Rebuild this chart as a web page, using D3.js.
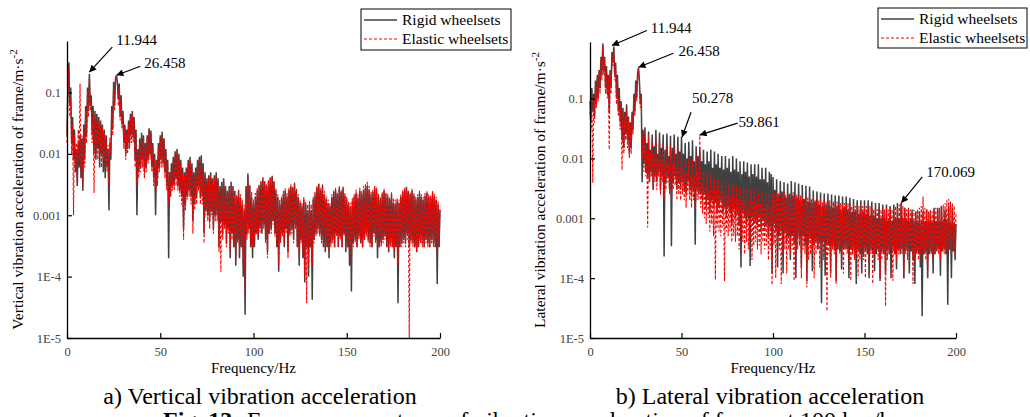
<!DOCTYPE html>
<html>
<head>
<meta charset="utf-8">
<script src="https://cdn.jsdelivr.net/npm/d3@7"></script>
<style>
  body { margin: 0; background: #fff; }
  text { font-family: "Liberation Serif", "Times New Roman", serif; }
</style>
</head>
<body>
<svg id="chart" width="1030" height="417"></svg>
<script>
// spectra are sampled every 0.5 Hz from 0 to 200 Hz
const STEP = 0.5;

// amplitudes in mm/s^2 (1 = 0.001 m/s^2), one row = 10 Hz
const vertRigid = [
  20, 150, 310, 60, 120, 15, 40, 8, 25, 5, 12, 3, 15, 6, 20, 4, 18, 2.5, 30, 8,
  60, 20, 120, 50, 200, 60, 90, 20, 60, 10, 50, 8, 45, 12, 40, 6, 35, 10, 30, 5,
  25, 4, 20, 6, 12, 1.2, 15, 8, 60, 25, 150, 60, 170, 190, 150, 80, 140, 40, 90, 30,
  50, 15, 30, 10, 25, 12, 35, 15, 45, 20, 50, 18, 40, 8, 25, 1.0, 12, 5, 18, 6,
  22, 8, 20, 5, 15, 6, 20, 8, 26, 10, 24, 6, 15, 4, 10, 1.0, 8, 4, 15, 6,
  20, 8, 23, 7, 18, 5, 12, 3, 8, 0.2, 5, 2, 7, 3, 9, 3, 11, 4, 12, 3,
  10, 2.5, 8, 2, 6, 0.6, 5, 1.5, 6, 2, 8, 2.5, 9, 2, 7, 0.8, 5, 1.5, 6, 2,
  8, 3, 9, 2, 9.5, 2, 7, 0.5, 5, 1.2, 4, 1, 4.5, 0.8, 5, 1.2, 4, 0.6, 4.5, 1,
  5, 1, 4, 0.3, 3, 0.8, 3.5, 0.5, 4, 0.7, 3, 0.35, 2.5, 0.6, 3, 0.2, 3.5, 0.5, 3, 0.3,
  2.5, 0.15, 2, 0.4, 2.5, 0.2, 2, 0.3, 1.5, 0.1, 1.2, 0.024, 3, 0.5, 4.8, 0.6, 3, 0.3, 2, 0.2,
  1.5, 0.3, 2, 0.5, 2.5, 0.4, 3, 0.6, 3.5, 0.5, 4, 0.7, 3.5, 0.4, 3, 0.25, 3.5, 0.5, 4, 0.6,
  4.4, 0.8, 3.5, 0.5, 2.5, 0.3, 2, 0.12, 1.5, 0.4, 1.8, 0.5, 2.2, 0.3, 2.5, 0.6, 2, 0.25, 2.6, 0.5,
  3, 0.6, 2.8, 0.4, 3.3, 0.7, 2.5, 0.3, 2, 0.15, 1.6, 0.4, 1.4, 0.2, 1.8, 0.08, 1.5, 0.3, 1.2, 0.1,
  1.5, 0.3, 1.2, 0.042, 1.8, 0.4, 2.2, 0.5, 2.8, 0.6, 3.2, 0.5, 2.6, 0.4, 3, 0.3, 2.2, 0.25, 1.8, 0.3,
  1.6, 0.2, 1.4, 0.35, 2, 0.4, 2.4, 0.3, 2.6, 0.5, 2.2, 0.3, 2.8, 0.45, 2.4, 0.3, 2.8, 0.5, 2.1, 0.25,
  1.8, 0.3, 1.5, 0.15, 1.4, 0.057, 1.7, 0.35, 2, 0.4, 2.3, 0.3, 1.9, 0.45, 2.5, 0.35, 2.2, 0.3, 2.6, 0.4,
  2.8, 0.5, 3, 0.4, 2.6, 0.35, 2.2, 0.3, 2.4, 0.5, 2.8, 0.4, 2.5, 0.2, 2, 0.3, 1.8, 0.35, 2.2, 0.4,
  2.5, 0.45, 2.2, 0.3, 2, 0.25, 1.8, 0.35, 2.2, 0.3, 1.6, 0.2, 1.5, 0.3, 1.7, 0.037, 1.6, 0.3, 2, 0.35,
  2.4, 0.4, 2.6, 0.35, 2.9, 0.5, 2.5, 0.3, 2.2, 0.4, 2.5, 0.35, 2.1, 0.3, 1.8, 0.25, 2, 0.3, 2.3, 0.4,
  2, 0.35, 1.8, 0.3, 2.1, 0.4, 2.3, 0.35, 2, 0.3, 1.9, 0.4, 2.3, 0.35, 2, 0.3, 1.8, 0.076, 1.5, 0.3,
  1.2
];

const vertElastic = [
  15, 100, 250, 40, 80, 10, 30, 1.0, 20, 6, 15, 4, 25, 8, 140, 5, 20, 3, 25, 6,
  50, 15, 100, 40, 180, 50, 80, 15, 50, 2.3, 45, 10, 40, 8, 35, 10, 30, 6, 28, 8,
  22, 6, 18, 5, 14, 3, 18, 10, 50, 20, 130, 50, 160, 170, 140, 60, 120, 35, 80, 25,
  45, 12, 28, 8, 22, 10, 30, 12, 40, 15, 45, 15, 35, 6, 22, 3, 10, 4, 16, 5,
  20, 6, 18, 4, 14, 5, 18, 7, 24, 8, 22, 5, 14, 3, 9, 2, 7, 3, 13, 5,
  18, 6, 20, 6, 16, 4, 10, 2.5, 7, 1.5, 5, 2, 6, 2.5, 8, 2.5, 10, 3, 11, 2.5,
  9, 2, 7, 1.5, 5, 0.4, 4.5, 1.2, 5.5, 1.8, 7, 2, 8, 1.5, 6, 0.5, 4.5, 1.2, 5.5, 1.5,
  7, 2.5, 8, 1.5, 8.5, 1.5, 6, 0.35, 4.5, 1, 3.5, 0.8, 4, 0.6, 4.5, 1, 3.5, 0.5, 4, 0.8,
  4.5, 0.8, 3.5, 0.25, 2.8, 0.12, 3, 0.4, 3.5, 0.6, 2.8, 0.3, 2.3, 0.5, 2.8, 0.25, 3.2, 0.4, 2.8, 0.3,
  2.3, 0.2, 2.2, 0.35, 2.6, 0.25, 2.2, 0.3, 1.8, 0.15, 1.5, 0.05, 2.8, 0.4, 4.2, 0.5, 3.2, 0.35, 2.4, 0.3,
  1.8, 0.35, 2.3, 0.5, 2.8, 0.45, 3.2, 0.5, 3.6, 0.6, 4.2, 0.6, 3.6, 0.35, 3.2, 0.2, 3.8, 0.5, 4.2, 0.5,
  4.2, 0.7, 3.6, 0.45, 2.8, 0.3, 2.2, 0.15, 1.8, 0.35, 2, 0.45, 2.5, 0.35, 2.8, 0.5, 2.3, 0.2, 2.8, 0.45,
  3.2, 0.5, 3, 0.35, 3.4, 0.6, 2.8, 0.3, 2.2, 0.2, 1.8, 0.35, 1.6, 0.25, 2, 0.1, 1.7, 0.037, 1.5, 0.15,
  1.7, 0.3, 1.5, 0.15, 2, 0.35, 2.5, 0.45, 3, 0.5, 3.4, 0.45, 2.8, 0.35, 3.2, 0.3, 2.5, 0.3, 2, 0.3,
  1.8, 0.25, 1.6, 0.3, 2.2, 0.35, 2.6, 0.3, 2.8, 0.45, 2.4, 0.3, 3, 0.4, 2.6, 0.3, 3, 0.45, 2.3, 0.3,
  2, 0.3, 1.7, 0.2, 1.6, 0.15, 1.9, 0.3, 2.2, 0.35, 2.6, 0.3, 2.2, 0.4, 2.8, 0.35, 2.5, 0.3, 3, 0.4,
  3.2, 0.45, 3.5, 0.35, 3, 0.3, 2.5, 0.3, 2.7, 0.45, 3, 0.35, 2.8, 0.25, 2.3, 0.3, 2, 0.3, 2.4, 0.35,
  2.7, 0.4, 2.4, 0.3, 2.3, 0.3, 2, 0.3, 2.4, 0.3, 1.9, 0.25, 1.8, 0.3, 1.9, 0.15, 1.8, 0.3, 2.2, 0.3,
  2.6, 0.35, 2.8, 0.3, 2.7, 0.4, 2.3, 0.01, 2.4, 0.35, 2.7, 0.3, 2.3, 0.3, 2, 0.25, 2.2, 0.3, 2.5, 0.35,
  2.2, 0.3, 2, 0.3, 2.3, 0.35, 2.5, 0.3, 2.2, 0.3, 2.1, 0.35, 2.5, 0.3, 2.2, 0.3, 2, 0.25, 1.7, 0.3,
  1.4
];

const latRigid = [
  90, 40, 150, 60, 120, 50, 200, 80, 250, 100, 300, 150, 500, 250, 830, 300, 500, 150, 350, 120,
  250, 60, 300, 150, 600, 400, 740, 250, 400, 100, 250, 60, 150, 40, 90, 20, 70, 15, 60, 25,
  80, 20, 50, 12, 40, 15, 60, 30, 120, 60, 200, 100, 260, 330, 200, 80, 120, 4, 30, 8,
  33, 6, 18, 5, 28, 4, 14, 6, 25, 3, 16, 5, 30, 4, 12, 6, 27, 3, 15, 5,
  25, 0.23, 14, 4, 26, 5, 11, 3, 24, 0.34, 15, 4, 25, 5, 12, 3, 23, 4, 13, 3,
  23, 4, 12, 3, 18, 2.5, 10, 4, 19, 3, 11, 2.5, 20, 3, 9, 0.36, 16, 3, 11, 2.5,
  15, 2.5, 9, 2, 14, 2.5, 8, 1.5, 13, 2, 9, 1.2, 14, 2, 7, 1.5, 13, 1.8, 8, 1.2,
  12, 1.5, 7, 2, 11, 1.2, 6.5, 1.5, 11, 1, 7, 1.5, 10, 1.2, 6, 0.8, 11, 1.4, 6.5, 1,
  10, 1.2, 6, 0.8, 9, 0.15, 5.5, 1.2, 9, 1, 6, 0.8, 8.5, 1, 5, 0.16, 8, 1, 5.5, 0.8,
  8, 0.9, 5, 0.7, 8, 1, 4.5, 0.6, 7, 0.9, 4.5, 0.7, 7, 0.8, 4, 0.5, 6, 0.7, 5.5, 0.12,
  4.9, 0.8, 3, 0.6, 4.5, 0.15, 2.5, 0.5, 4.2, 0.6, 2.8, 0.12, 4, 0.6, 2.2, 0.4, 3.8, 0.5, 2.5, 0.2,
  4.2, 0.5, 2.4, 0.4, 4, 0.1, 2.2, 0.45, 3.8, 0.5, 2, 0.15, 3.6, 0.5, 2.1, 0.35, 3.5, 0.09, 1.9, 0.4,
  3.4, 0.45, 1.8, 0.13, 2.9, 0.35, 1.9, 0.4, 2.8, 0.3, 1.7, 0.4, 2.7, 0.038, 1.6, 0.4, 2.6, 0.11, 1.7, 0.35,
  2.6, 0.35, 1.6, 0.12, 2.5, 0.35, 1.5, 0.3, 2.4, 0.09, 1.6, 0.3, 2.4, 0.28, 1.4, 0.14, 2.3, 0.32, 1.5, 0.3,
  2.3, 0.3, 1.4, 0.1, 2.2, 0.3, 1.3, 0.25, 2.1, 0.3, 1.3, 0.08, 2, 0.3, 1.2, 0.25, 2, 0.12, 1.3, 0.25,
  2, 0.3, 1.2, 0.25, 2, 0.1, 1.1, 0.3, 1.9, 0.25, 1.1, 0.13, 1.8, 0.25, 1.0, 0.3, 1.8, 0.09, 1.0, 0.28,
  1.7, 0.25, 1.0, 0.12, 1.7, 0.3, 0.9, 0.25, 1.6, 0.1, 0.9, 0.3, 1.7, 0.25, 1.0, 0.14, 1.8, 0.3, 1.0, 0.25,
  1.8, 0.3, 1.0, 0.1, 1.5, 0.28, 0.9, 0.3, 1.4, 0.12, 0.9, 0.28, 1.4, 0.2, 0.9, 0.08, 1.3, 0.28, 0.85, 0.25,
  1.3, 0.15, 0.85, 0.023, 1.3, 0.25, 0.9, 0.28, 1.4, 0.1, 0.9, 0.25, 1.3, 0.28, 0.85, 0.12, 1.5, 0.25, 0.9, 0.28,
  1.5, 0.3, 0.9, 0.11, 1.6, 0.28, 0.9, 0.3, 1.4, 0.25, 0.9, 0.036, 1.6, 0.3, 0.85, 0.1, 1.5, 0.28, 0.8, 0.2,
  0.8
];

const latElastic = [
  60, 30, 120, 3.9, 100, 40, 180, 70, 220, 90, 280, 120, 450, 200, 780, 250, 450, 120, 300, 100,
  220, 14, 280, 120, 550, 350, 700, 200, 350, 80, 220, 50, 130, 30, 80, 6.4, 60, 12, 50, 20,
  70, 15, 45, 10, 35, 12, 55, 25, 110, 50, 180, 90, 240, 310, 180, 70, 100, 10, 25, 6,
  28, 5, 14, 0.7, 24, 4, 13, 5, 20, 3, 12, 4, 24, 3, 10, 5, 20, 2.5, 9, 4,
  18, 2, 9, 3, 17, 4, 8, 2.5, 16, 2, 8, 3, 15, 3.5, 7, 2, 14, 2.5, 7, 2,
  13, 2.5, 6, 2, 10, 1.5, 6, 2.5, 10, 2, 5, 1.5, 10, 2, 5, 1.5, 11, 2, 6, 2,
  24, 1.5, 4, 1.2, 6, 1, 3.5, 0.8, 6, 1, 3, 0.6, 5.5, 0.8, 3, 0.5, 4.5, 0.094, 3, 0.7,
  4.5, 0.6, 2.8, 0.5, 4, 0.7, 2.6, 0.089, 4, 0.6, 2.5, 0.5, 3.8, 0.6, 2.4, 0.4, 3.6, 0.5, 2.2, 0.4,
  3.6, 0.5, 2.1, 0.3, 3.4, 0.5, 2, 0.4, 3.3, 0.25, 2, 0.4, 3.2, 0.3, 1.9, 0.45, 3, 0.2, 1.9, 0.35,
  3, 0.4, 1.8, 0.3, 2.9, 0.35, 1.8, 0.25, 2.8, 0.4, 1.7, 0.3, 2.7, 0.35, 1.7, 0.2, 2.6, 0.3, 1.6, 0.077,
  2.6, 0.35, 2.8, 0.1, 2.5, 0.4, 2.7, 0.3, 2.5, 0.08, 2.6, 0.25, 2.8, 0.3, 2.5, 0.12, 2.4, 0.3, 2.6, 0.25,
  2.5, 0.3, 2.8, 0.09, 2.4, 0.25, 2.5, 0.3, 2.3, 0.35, 2.4, 0.1, 2.3, 0.3, 2.2, 0.25, 2.4, 0.07, 2.2, 0.2,
  2.3, 0.25, 2.1, 0.3, 2.2, 0.1, 2, 0.25, 2.1, 0.3, 2, 0.15, 2.1, 0.25, 1.9, 0.2, 2, 0.3, 1.9, 0.028,
  1.9, 0.25, 2, 0.1, 1.8, 0.3, 1.9, 0.25, 1.8, 0.08, 1.9, 0.3, 1.7, 0.25, 1.8, 0.2, 1.7, 0.12, 1.8, 0.3,
  1.7, 0.25, 1.8, 0.2, 1.7, 0.09, 1.6, 0.25, 1.7, 0.2, 1.6, 0.25, 1.7, 0.11, 1.6, 0.2, 1.5, 0.25, 1.6, 0.2,
  1.5, 0.1, 1.6, 0.3, 1.5, 0.2, 1.6, 0.25, 1.5, 0.08, 1.4, 0.25, 1.5, 0.3, 1.4, 0.2, 1.5, 0.1, 1.4, 0.2,
  1.5, 0.25, 1.4, 0.034, 1.5, 0.2, 1.4, 0.25, 1.5, 0.3, 1.4, 0.09, 1.5, 0.25, 1.6, 0.2, 1.5, 0.25, 1.7, 0.3,
  1.8, 0.25, 1.6, 0.1, 1.5, 0.25, 1.4, 0.2, 1.5, 0.25, 1.4, 0.3, 1.3, 0.08, 1.4, 0.2, 1.3, 0.25, 1.4, 0.2,
  1.5, 0.25, 1.6, 0.3, 2.3, 0.25, 1.5, 0.2, 1.4, 0.1, 1.3, 0.3, 1.4, 0.25, 1.3, 0.2, 1.4, 0.25, 1.5, 0.3,
  1.4, 0.25, 1.5, 0.2, 1.6, 0.3, 1.7, 0.25, 1.8, 0.3, 2, 0.25, 2.1, 0.3, 1.9, 0.25, 1.8, 0.3, 1.6, 0.25,
  1.2
];

const seriesNames = ["Rigid wheelsets", "Elastic wheelsets"];
const xTicks = [0, 50, 100, 150, 200];
const yTicks = [1e-5, 1e-4, 1e-3, 1e-2, 1e-1];
const yTickLabels = ["1E-5", "1E-4", "0.001", "0.01", "0.1"];

// marked peaks: frequency (Hz) and amplitude (m/s^2)
const vertPeakFreq = [11.944, 26.458];
const vertPeakAmp = [0.214, 0.191];
const latPeakFreq = [11.944, 26.458, 50.278, 59.861, 170.069];
const latPeakAmp = [0.77, 0.333, 0.0226, 0.0245, 0.0018];

// label / arrow-tail offsets from each peak, px
const vertPeakLayout = [
  { tail: [23, -25], text: [27, -27] },
  { tail: [24, -9], text: [28, -7] }
];
const latPeakLayout = [
  { tail: [35, -15], text: [39, -12] },
  { tail: [35, -14], text: [40, -11] },
  { tail: [9, -25], text: [10, -34] },
  { tail: [38, -12], text: [39, -8] },
  { tail: [21, -26], text: [25, -26] }
];

const panels = [
  {
    rigid: vertRigid, elastic: vertElastic,
    peakFreq: vertPeakFreq, peakAmp: vertPeakAmp, peakLayout: vertPeakLayout,
    left: 67, right: 440, top: 41, bottom: 338, yMax: 0.69,
    yTitle: "Vertical vibration acceleration of frame/m·s", yTitleX: 23,
    caption: "a) Vertical vibration acceleration", captionX: 260,
    legend: { x: 361, y: 9, w: 150, h: 41 }
  },
  {
    rigid: latRigid, elastic: latElastic,
    peakFreq: latPeakFreq, peakAmp: latPeakAmp, peakLayout: latPeakLayout,
    left: 590, right: 956, top: 42, bottom: 338, yMax: 0.88,
    yTitle: "Lateral vibration acceleration of frame/m·s", yTitleX: 545,
    caption: "b) Lateral vibration acceleration", captionX: 770,
    legend: { x: 878, y: 8, w: 149, h: 40 }
  }
];

const svg = d3.select("#chart");
svg.append("rect").attr("width", 1030).attr("height", 417).attr("fill", "#fff");

svg.append("defs").append("marker")
  .attr("id", "arrow")
  .attr("viewBox", "0 0 10 10")
  .attr("refX", 10).attr("refY", 5)
  .attr("markerWidth", 9).attr("markerHeight", 7)
  .attr("markerUnits", "userSpaceOnUse")
  .attr("orient", "auto")
  .append("path").attr("d", "M0,0L10,5L0,10z").attr("fill", "#000");

panels.forEach(function (p) {
  const x = d3.scaleLinear().domain([0, 200]).range([p.left, p.right]);
  const y = d3.scaleLog().domain([1e-5, p.yMax]).range([p.bottom, p.top]).clamp(true);
  const g = svg.append("g");

  const line = d3.line()
    .x(function (d, i) { return x(i * STEP); })
    .y(function (d) { return y(d / 1000); });

  g.append("path")
    .datum(p.rigid)
    .attr("d", line)
    .attr("fill", "none")
    .attr("stroke", "#404040")
    .attr("stroke-width", 1.5);

  g.append("path")
    .datum(p.elastic)
    .attr("d", line)
    .attr("fill", "none")
    .attr("stroke", "#ff0000")
    .attr("stroke-width", 1.1)
    .attr("stroke-dasharray", "3,2");

  // axes, ticks pointing inward
  const xAxis = g.append("g")
    .attr("transform", "translate(0," + p.bottom + ")")
    .call(d3.axisBottom(x).tickValues(xTicks).tickSize(-5).tickSizeOuter(0).tickPadding(9));
  const yAxis = g.append("g")
    .attr("transform", "translate(" + p.left + ",0)")
    .call(d3.axisLeft(y).tickValues(yTicks).tickSize(-5).tickSizeOuter(0).tickPadding(6)
      .tickFormat(function (d, i) { return yTickLabels[i]; }));
  [xAxis, yAxis].forEach(function (a) {
    a.select(".domain").attr("stroke", "#000").attr("stroke-width", 1.3);
    a.selectAll(".tick line").attr("stroke", "#000").attr("stroke-width", 1.2);
    a.selectAll(".tick text")
      .attr("fill", "#444")
      .style("font-size", "12.5px")
      .style("font-family", "'Liberation Serif', serif");
  });

  g.append("text")
    .attr("x", (p.left + p.right) / 2)
    .attr("y", 373)
    .attr("text-anchor", "middle")
    .style("font-size", "15px")
    .text("Frequency/Hz");

  const yt = g.append("text")
    .attr("transform", "translate(" + p.yTitleX + "," + (p.top + p.bottom) / 2 + ") rotate(-90)")
    .attr("text-anchor", "middle")
    .style("font-size", "15.5px");
  yt.append("tspan").text(p.yTitle);
  yt.append("tspan").attr("dy", -6).style("font-size", "11px").text("-2");

  g.append("text")
    .attr("x", p.captionX)
    .attr("y", 404)
    .attr("text-anchor", "middle")
    .style("font-size", "24px")
    .text(p.caption);

  // peak annotations
  p.peakFreq.forEach(function (f, i) {
    const tx = x(f), ty = y(p.peakAmp[i]);
    const lay = p.peakLayout[i];
    g.append("line")
      .attr("x1", tx + lay.tail[0]).attr("y1", ty + lay.tail[1])
      .attr("x2", tx).attr("y2", ty)
      .attr("stroke", "#000").attr("stroke-width", 1.2)
      .attr("marker-end", "url(#arrow)");
    g.append("text")
      .attr("x", tx + lay.text[0]).attr("y", ty + lay.text[1])
      .style("font-size", "15px")
      .text(d3.format(".3f")(f));
  });

  // legend
  const L = p.legend;
  const lg = g.append("g").attr("transform", "translate(" + L.x + "," + L.y + ")");
  lg.append("rect").attr("width", L.w).attr("height", L.h)
    .attr("fill", "#fff").attr("stroke", "#000").attr("stroke-width", 1);
  seriesNames.forEach(function (name, i) {
    const ly = 11 + i * 19;
    lg.append("line")
      .attr("x1", 3).attr("x2", 36).attr("y1", ly).attr("y2", ly)
      .attr("stroke", i === 0 ? "#404040" : "#ff0000")
      .attr("stroke-width", i === 0 ? 1.5 : 1.1)
      .attr("stroke-dasharray", i === 0 ? null : "3,2");
    lg.append("text")
      .attr("x", 41).attr("y", ly + 5)
      .style("font-size", "15.5px")
      .text(name);
  });
});

// figure caption, mostly cut off by the bottom edge as in the source
const fig = svg.append("text")
  .attr("y", 428)
  .style("font-size", "24px");
fig.append("tspan").attr("x", 163).style("font-weight", "bold").text("Fig. 13");
fig.append("tspan").attr("x", 247).text("Frequency spectrum of vibration acceleration of frame at 100 km/h");
</script>
</body>
</html>
